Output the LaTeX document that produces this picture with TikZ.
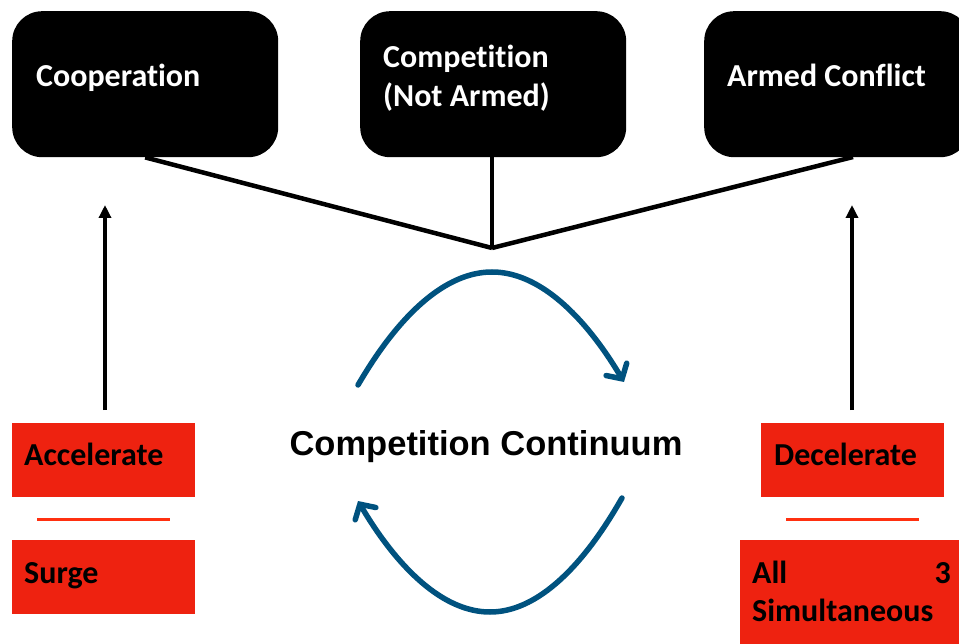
\documentclass[tikz,border=0pt]{standalone}
\usepackage{fontspec}
\setmainfont[Ligatures={NoCommon}]{Carlito}
\newfontfamily\arialfont{Liberation Sans}
\usetikzlibrary{arrows.meta}
\definecolor{boxred}{HTML}{EE2210}
\definecolor{linered}{HTML}{FF3010}
\definecolor{arcblue}{HTML}{00527F}
\begin{document}
\begin{tikzpicture}[x=1pt,y=-1pt,
  topbox/.style={fill=black, rounded corners=30pt, minimum width=266pt, minimum height=146pt, inner sep=0pt, anchor=north west},
  toptext/.style={text=white, font=\fontsize{32}{39}\selectfont\bfseries, anchor=base west, align=left, inner sep=0pt},
  redbox/.style={fill=boxred, minimum width=183pt, minimum height=74pt, inner sep=0pt, anchor=north west},
  redtext/.style={text=black, font=\fontsize{32}{38}\selectfont\bfseries, anchor=base west, align=left, inner sep=0pt},
  joinline/.style={line width=4.5pt, black},
  uparrow/.style={line width=4pt, black, -{Triangle[length=13pt,width=12pt]}},
  divider/.style={line width=3pt, linered},
  arcarrow/.style={line width=5.5pt, arcblue, line cap=round, -{Straight Barb[length=11pt,width=24pt,line cap=round]}}
]
\useasboundingbox (0,0) rectangle (959,644);

% top boxes
\node[topbox] (coop) at (12,11) {};
\node[topbox] (comp) at (360,11) {};
\node[topbox] (armed) at (704,11) {};
\node[toptext] (coopt) at (36,87) {Cooperation};
\node[toptext] (compt) at (383,68) {Competition};
\node[toptext] (compt2) at (383,107) {(Not Armed)};
\node[toptext] (armedt) at (727,87) {Armed Conflict};

% joining lines
\coordinate (hub) at (492,248);
\coordinate (armedfoot) at (853,157);
\draw[joinline] (coop.south) -- (hub);
\draw[joinline] (comp.south -| hub) -- (hub);
\draw[joinline] (armedfoot) -- (hub);

% red boxes
\node[redbox] (acc) at (12,423) {};
\node[redbox] (surge) at (12,540) {};
\node[redbox] (dec) at (761,423) {};
\node[redbox, minimum width=230pt, minimum height=110pt] (all) at (740,540) {};
\node[redtext] (acct) at (24,465) {Accelerate};
\node[redtext] (surget) at (24,583) {Surge};
\node[redtext] (dect) at (774,465) {Decelerate};
\node[redtext] (allt) at (752,583) {All};
\node[redtext, anchor=base east] (allt3) at (951,583) {3};
\node[redtext] (simt) at (752,621) {Simultaneous};

% dividers
\coordinate (d1a) at (37,519); \coordinate (d1b) at (170,519);
\coordinate (d2a) at (786,519); \coordinate (d2b) at (919,519);
\draw[divider] (d1a) -- (d1b);
\draw[divider] (d2a) -- (d2b);

% up arrows
\coordinate (la) at (105,410); \coordinate (lb) at (105,205);
\coordinate (ra) at (852,410); \coordinate (rb) at (852,205);
\draw[uparrow] (la) -- (lb);
\draw[uparrow] (ra) -- (rb);

% centre label
\node[font=\arialfont\bfseries\fontsize{34.5}{40}\selectfont, anchor=base, inner sep=0pt] (cc) at (486,455) {Competition Continuum};

% blue arcs
\coordinate (t1) at (358,385); \coordinate (t2) at (492,272); \coordinate (t3) at (624,382);
\coordinate (b1) at (622,498); \coordinate (b2) at (490,612); \coordinate (b3) at (358,501);
\draw[arcarrow] (t1) parabola bend (t2) (t3);
\draw[arcarrow] (b1) parabola bend (b2) (b3);
\end{tikzpicture}
\end{document}
